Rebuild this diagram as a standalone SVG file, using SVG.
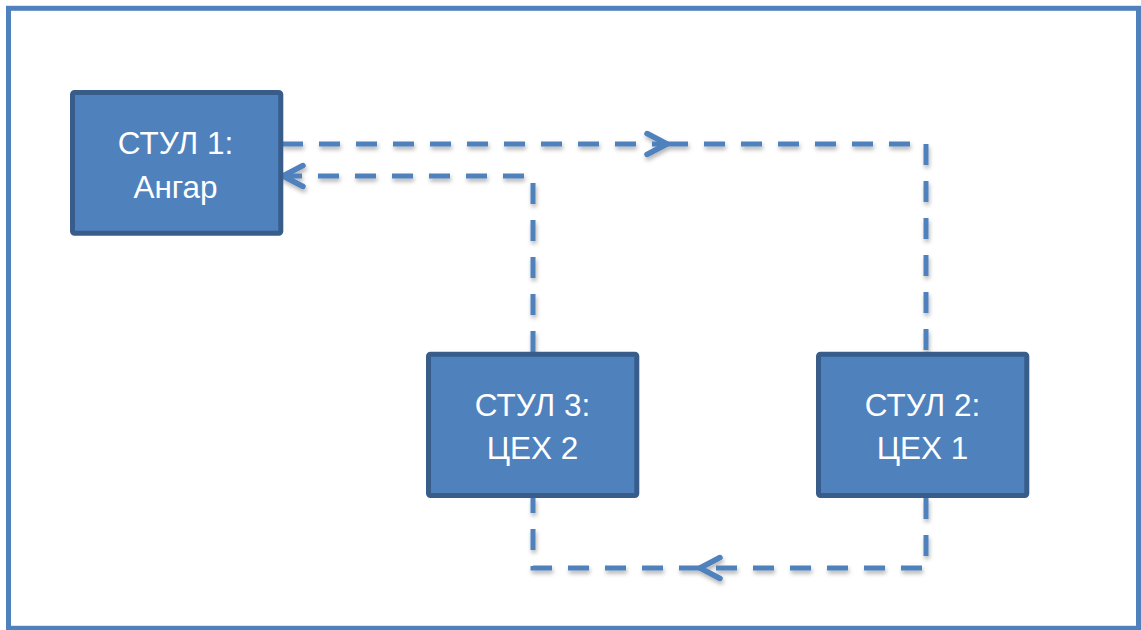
<svg xmlns="http://www.w3.org/2000/svg" width="1141" height="630" viewBox="0 0 1141 630">
  <style>
    .frame { fill: #ffffff; stroke: #4f81bd; stroke-width: 5; }
    .node rect { fill: #4f81bd; stroke: #385d8a; stroke-width: 5; }
    .node text { fill: #ffffff; font-family: "Liberation Sans", Arial, sans-serif; font-size: 31.5px; text-anchor: middle; }
    .link { fill: none; stroke: #4f81bd; stroke-width: 5; stroke-dasharray: 21 16; }
    .chev { fill: none; stroke: #4f81bd; stroke-width: 5.5; stroke-linecap: round; stroke-linejoin: round; stroke-dasharray: none; }
  </style>
  <defs>
    <filter id="shadow" x="-10%" y="-10%" width="120%" height="120%">
      <feDropShadow dx="1" dy="3" stdDeviation="2" flood-color="#000000" flood-opacity="0.3"/>
    </filter>
    <marker id="arrow" markerUnits="userSpaceOnUse" viewBox="-24 -14 28 28" refX="0" refY="0" markerWidth="28" markerHeight="28" orient="auto" overflow="visible">
      <path class="chev" d="M-20,-10.5 L0,0 L-20,10.5"/>
    </marker>
  </defs>

  <rect class="frame" x="8.5" y="8.3" width="1130" height="620"/>

  <g id="connectors" filter="url(#shadow)">
    <!-- Ангар -> ЦЕХ 1 -->
    <path class="link" d="M282,144 H667" marker-end="url(#arrow)"/>
    <path class="link" d="M667,144 H926 V352"/>
    <!-- ЦЕХ 1 -> ЦЕХ 2 -->
    <path class="link" d="M926,498 V568 H700" marker-end="url(#arrow)"/>
    <path class="link" d="M700,568 H533 V498"/>
    <!-- ЦЕХ 2 -> Ангар -->
    <path class="link" d="M533,352 V176 H283" marker-end="url(#arrow)"/>
  </g>

  <g id="node-hangar" class="node">
    <rect x="72.5" y="92.5" width="208.3" height="140.8" rx="2"/>
    <text x="175.5" y="153.5">СТУЛ 1:</text>
    <text x="175.5" y="198">Ангар</text>
  </g>

  <g id="node-shop2" class="node">
    <rect x="428.5" y="354.3" width="208.3" height="141.2" rx="2"/>
    <text x="532.5" y="415.5">СТУЛ 3:</text>
    <text x="532.5" y="459">ЦЕХ 2</text>
  </g>

  <g id="node-shop1" class="node">
    <rect x="818.5" y="354.3" width="208.3" height="141.2" rx="2"/>
    <text x="922.5" y="415.5">СТУЛ 2:</text>
    <text x="922.5" y="459">ЦЕХ 1</text>
  </g>
</svg>
